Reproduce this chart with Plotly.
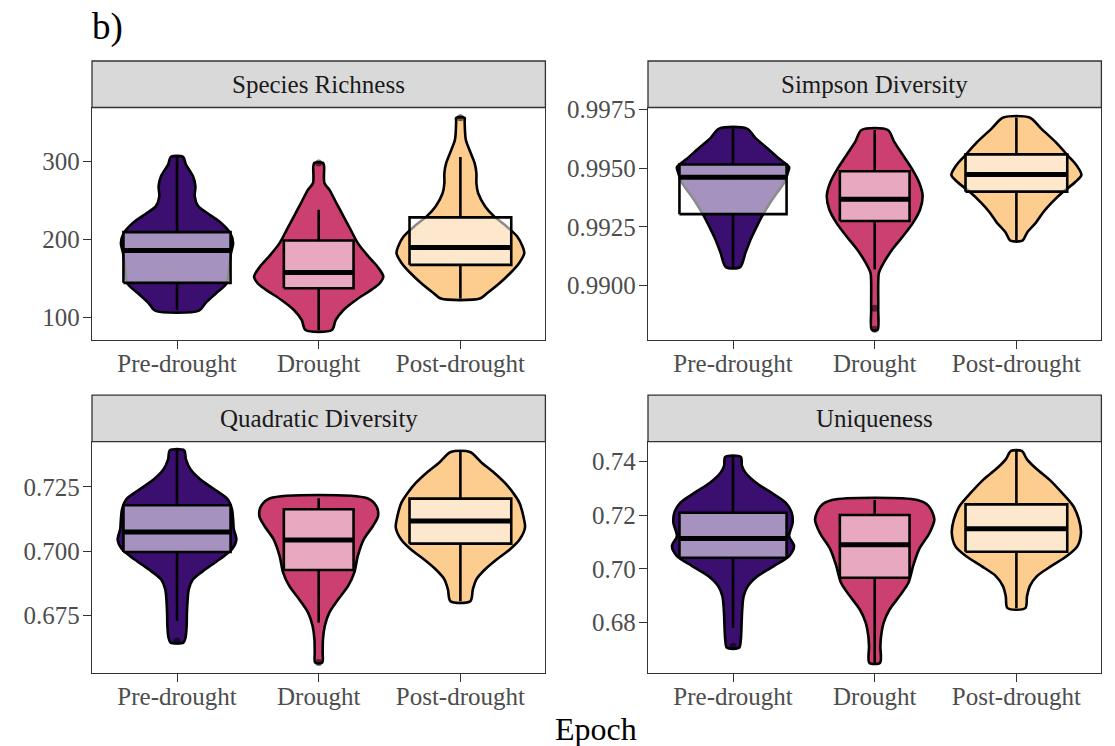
import plotly.graph_objects as go

EPOCHS = ["Pre-drought", "Drought", "Post-drought"]
METRICS = ["Species Richness", "Simpson Diversity", "Quadratic Diversity", "Uniqueness"]

# Violin outlines: metric value (top to bottom) and half-width in category units
rich_pre_val = [305.6, 295.7, 280.8, 268.0, 255.1, 242.3, 233.8, 220.9, 208.1, 195.3, 182.5, 165.4, 144.0, 131.2, 118.4, 109.0]
rich_pre_hw = [0.043, 0.063, 0.113, 0.130, 0.125, 0.150, 0.213, 0.313, 0.376, 0.396, 0.381, 0.368, 0.351, 0.276, 0.200, 0.155]
rich_dro_val = [297.9, 293.6, 272.2, 263.7, 246.6, 229.5, 212.4, 195.3, 178.2, 165.4, 152.6, 144.0, 135.5, 122.6, 109.8, 97.0, 84.2]
rich_dro_hw = [0.030, 0.038, 0.040, 0.075, 0.125, 0.175, 0.226, 0.276, 0.351, 0.414, 0.456, 0.431, 0.371, 0.263, 0.175, 0.120, 0.093]
rich_pos_val = [355.6, 351.3, 327.8, 315.0, 297.9, 285.0, 272.2, 259.4, 242.3, 229.5, 216.7, 203.8, 191.0, 182.5, 169.7, 156.8, 144.0, 131.2, 124.4]
rich_pos_hw = [0.030, 0.030, 0.038, 0.063, 0.100, 0.113, 0.113, 0.125, 0.175, 0.238, 0.326, 0.401, 0.439, 0.451, 0.414, 0.351, 0.276, 0.188, 0.138]

simp_pre_val = [0.99669, 0.99626, 0.99583, 0.99540, 0.99504, 0.99483, 0.99440, 0.99397, 0.99354, 0.99304, 0.99254, 0.99197, 0.99139, 0.99078]
simp_pre_hw = [0.098, 0.163, 0.246, 0.326, 0.396, 0.388, 0.363, 0.313, 0.263, 0.213, 0.170, 0.125, 0.088, 0.050]
simp_dro_val = [0.99663, 0.99612, 0.99554, 0.99497, 0.99440, 0.99383, 0.99325, 0.99268, 0.99211, 0.99154, 0.99096, 0.99054, 0.99011, 0.98896, 0.98810]
simp_dro_hw = [0.093, 0.138, 0.201, 0.263, 0.313, 0.338, 0.321, 0.271, 0.201, 0.125, 0.063, 0.030, 0.025, 0.025, 0.020]
simp_pos_val = [0.99716, 0.99669, 0.99612, 0.99554, 0.99511, 0.99471, 0.99440, 0.99397, 0.99354, 0.99311, 0.99268, 0.99225, 0.99191]
simp_pos_hw = [0.093, 0.175, 0.276, 0.363, 0.426, 0.459, 0.414, 0.326, 0.251, 0.188, 0.138, 0.075, 0.043]

quad_pre_val = [0.73925, 0.73575, 0.73186, 0.72798, 0.72409, 0.72021, 0.71632, 0.71243, 0.70855, 0.70466, 0.70078, 0.69689, 0.69301, 0.68912, 0.68523, 0.68135, 0.67617, 0.67098, 0.66645, 0.66451]
quad_pre_hw = [0.050, 0.063, 0.095, 0.163, 0.263, 0.358, 0.388, 0.396, 0.401, 0.419, 0.388, 0.301, 0.201, 0.113, 0.083, 0.075, 0.070, 0.068, 0.060, 0.045]
quad_dro_val = [0.72060, 0.71762, 0.71373, 0.70984, 0.70466, 0.69819, 0.69171, 0.68653, 0.68135, 0.67617, 0.67098, 0.66580, 0.66062, 0.65674]
quad_dro_hw = [0.343, 0.406, 0.419, 0.383, 0.318, 0.276, 0.251, 0.208, 0.138, 0.075, 0.043, 0.030, 0.028, 0.025]
quad_pos_val = [0.73860, 0.73445, 0.73057, 0.72668, 0.72280, 0.71891, 0.71373, 0.70920, 0.70466, 0.70078, 0.69689, 0.69301, 0.68912, 0.68523, 0.68057]
quad_pos_hw = [0.068, 0.150, 0.238, 0.313, 0.371, 0.416, 0.444, 0.456, 0.419, 0.351, 0.258, 0.175, 0.113, 0.088, 0.070]

uniq_pre_val = [0.74161, 0.73826, 0.73577, 0.73205, 0.72832, 0.72460, 0.72087, 0.71714, 0.71218, 0.70845, 0.70472, 0.70099, 0.69727, 0.69355, 0.68982, 0.68485, 0.67864, 0.67367, 0.67057]
uniq_pre_hw = [0.055, 0.063, 0.088, 0.163, 0.271, 0.371, 0.414, 0.421, 0.396, 0.431, 0.396, 0.288, 0.175, 0.105, 0.075, 0.065, 0.060, 0.055, 0.043]
uniq_dro_val = [0.72559, 0.72335, 0.71839, 0.71342, 0.70721, 0.70100, 0.69479, 0.68982, 0.68485, 0.67988, 0.67492, 0.67119, 0.66498]
uniq_dro_hw = [0.301, 0.381, 0.421, 0.388, 0.313, 0.271, 0.238, 0.175, 0.105, 0.063, 0.045, 0.040, 0.038]
uniq_pos_val = [0.74385, 0.74074, 0.73702, 0.73329, 0.72832, 0.72335, 0.71839, 0.71342, 0.70845, 0.70472, 0.70100, 0.69727, 0.69355, 0.68982, 0.68535]
uniq_pos_hw = [0.038, 0.075, 0.145, 0.231, 0.321, 0.401, 0.441, 0.456, 0.431, 0.356, 0.246, 0.145, 0.095, 0.075, 0.063]

# Box statistics per epoch: [lower whisker, Q1, median, Q3, upper whisker]
rich_box = [[110.0, 144.5, 186.0, 209.4, 305.6],
            [84.2, 137.6, 157.7, 198.7, 238.0],
            [124.4, 167.5, 189.7, 228.2, 305.6]]
simp_box = [[0.99078, 0.99304, 0.99461, 0.99516, 0.99669],
            [0.99068, 0.99275, 0.99368, 0.99487, 0.99663],
            [0.99191, 0.99400, 0.99473, 0.99559, 0.99716]]
quad_box = [[0.67293, 0.69974, 0.70751, 0.71788, 0.73925],
            [0.67228, 0.69275, 0.70440, 0.71632, 0.72060],
            [0.68057, 0.70298, 0.71179, 0.72047, 0.73860]]
uniq_box = [[0.67802, 0.70410, 0.71131, 0.72087, 0.74161],
            [0.66498, 0.69665, 0.70895, 0.72000, 0.72559],
            [0.68535, 0.70634, 0.71491, 0.72397, 0.74385]]

# Outlying observations per epoch
rich_out = [[], [297.9], [355.6]]
simp_out = [[], [0.98903, 0.98813], []]
quad_out = [[0.66516], [0.65674], []]
uniq_out = [[0.67119], [], []]

# ---- styling ----
FILL = ["#3B0F70", "#CC3F71", "#FDCD90"]
BOX_HALF = [0.378, 0.246, 0.359]          # variable box widths
BOX_FILL = "rgba(255,255,255,0.55)"
SERIF = "Liberation Serif, Times New Roman, serif"
TICK_COLOR = "#4D4D4D"
FRAME = "#333333"

W, H = 1115, 746
X_DOM = [[92 / W, 545.4 / W], [648 / W, 1101.4 / W]]
Y_DOM = [[1 - 340 / H, 1 - 107.5 / H], [1 - 673 / H, 1 - 441.7 / H]]
STRIP_H = 46.5 / H

panels = [
    dict(title=METRICS[0], prof=[(rich_pre_val, rich_pre_hw), (rich_dro_val, rich_dro_hw), (rich_pos_val, rich_pos_hw)],
         box=rich_box, out=rich_out, rng=[71.4, 368.8], ticks=[100, 200, 300], fmt="d"),
    dict(title=METRICS[1], prof=[(simp_pre_val, simp_pre_hw), (simp_dro_val, simp_dro_hw), (simp_pos_val, simp_pos_hw)],
         box=simp_box, out=simp_out, rng=[0.98767, 0.99759], ticks=[0.99, 0.9925, 0.995, 0.9975], fmt=".4f"),
    dict(title=METRICS[2], prof=[(quad_pre_val, quad_pre_hw), (quad_dro_val, quad_dro_hw), (quad_pos_val, quad_pos_hw)],
         box=quad_box, out=quad_out, rng=[0.6527, 0.7426], ticks=[0.675, 0.7, 0.725], fmt=".3f"),
    dict(title=METRICS[3], prof=[(uniq_pre_val, uniq_pre_hw), (uniq_dro_val, uniq_dro_hw), (uniq_pos_val, uniq_pos_hw)],
         box=uniq_box, out=uniq_out, rng=[0.6612, 0.7473], ticks=[0.68, 0.7, 0.72, 0.74], fmt=".2f"),
]

fig = go.Figure()
shapes, annotations = [], []
layout_axes = {}

for p_idx, p in enumerate(panels):
    row, col = divmod(p_idx, 2)
    n = p_idx + 1
    xa, ya = ("x" if n == 1 else f"x{n}"), ("y" if n == 1 else f"y{n}")
    xd, yd = X_DOM[col], Y_DOM[row]

    for e_idx, ((vals, hws), stats, outs) in enumerate(zip(p["prof"], p["box"], p["out"])):
        c = e_idx + 1
        # violin outline: right side downward, left side back up
        vx = [c + w for w in hws] + [c - w for w in reversed(hws)] + [c + hws[0]]
        vy = list(vals) + list(reversed(vals)) + [vals[0]]
        fig.add_trace(go.Scatter(x=vx, y=vy, xaxis=xa, yaxis=ya, mode="lines",
                                 fill="toself", fillcolor=FILL[e_idx],
                                 line=dict(color="black", width=2.6, shape="spline", smoothing=0.8),
                                 hoverinfo="skip", showlegend=False))
        lo, q1, med, q3, hi = stats
        bw = BOX_HALF[e_idx]
        # whiskers
        fig.add_trace(go.Scatter(x=[c, c, None, c, c], y=[q3, hi, None, q1, lo], xaxis=xa, yaxis=ya,
                                 mode="lines", line=dict(color="black", width=2.6),
                                 hoverinfo="skip", showlegend=False))
        # box
        fig.add_trace(go.Scatter(x=[c - bw, c + bw, c + bw, c - bw, c - bw], y=[q1, q1, q3, q3, q1],
                                 xaxis=xa, yaxis=ya, mode="lines", fill="toself", fillcolor=BOX_FILL,
                                 line=dict(color="black", width=2.6),
                                 hoverinfo="skip", showlegend=False))
        # median
        fig.add_trace(go.Scatter(x=[c - bw, c + bw], y=[med, med], xaxis=xa, yaxis=ya, mode="lines",
                                 line=dict(color="black", width=5),
                                 hoverinfo="skip", showlegend=False))
        if outs:
            fig.add_trace(go.Scatter(x=[c] * len(outs), y=outs, xaxis=xa, yaxis=ya, mode="markers",
                                     marker=dict(color="rgba(0,0,0,0.55)", size=7, line=dict(width=0)),
                                     hoverinfo="skip", showlegend=False))

    axis_common = dict(showline=True, mirror=True, linecolor=FRAME, linewidth=1.3,
                       showgrid=False, zeroline=False, ticks="outside", ticklen=8,
                       tickwidth=1.4, tickcolor=FRAME, automargin=False,
                       tickfont=dict(family=SERIF, size=25, color=TICK_COLOR))
    layout_axes["xaxis" if n == 1 else f"xaxis{n}"] = dict(
        axis_common, domain=xd, anchor=ya, range=[0.4, 3.6], ticklabelstandoff=-7,
        tickmode="array", tickvals=[1, 2, 3], ticktext=EPOCHS, fixedrange=True)
    layout_axes["yaxis" if n == 1 else f"yaxis{n}"] = dict(
        axis_common, domain=yd, anchor=xa, range=p["rng"], ticklabelstandoff=-2,
        tickmode="array", tickvals=p["ticks"], tickformat=p["fmt"], fixedrange=True)

    # facet strip
    shapes.append(dict(type="rect", xref="paper", yref="paper", x0=xd[0], x1=xd[1],
                       y0=yd[1], y1=yd[1] + STRIP_H, fillcolor="#D9D9D9",
                       line=dict(color=FRAME, width=1.3), layer="above"))
    annotations.append(dict(text=p["title"], xref="paper", yref="paper",
                            x=(xd[0] + xd[1]) / 2, y=yd[1] + STRIP_H / 2,
                            showarrow=False, xanchor="center", yanchor="middle",
                            font=dict(family=SERIF, size=25, color="#1A1A1A")))

annotations.append(dict(text="Epoch", xref="paper", yref="paper", x=596 / W, y=1 - 729 / H,
                        showarrow=False, xanchor="center", yanchor="middle",
                        font=dict(family=SERIF, size=32, color="black")))
annotations.append(dict(text="b)", xref="paper", yref="paper", x=90 / W, y=1 - 27 / H,
                        showarrow=False, xanchor="left", yanchor="middle",
                        font=dict(family=SERIF, size=37, color="black")))

fig.update_layout(width=W, height=H, margin=dict(l=0, r=0, t=0, b=0, autoexpand=False),
                  paper_bgcolor="white", plot_bgcolor="white",
                  shapes=shapes, annotations=annotations, showlegend=False, **layout_axes)

fig.write_html("out.html", config={"displayModeBar": False})
